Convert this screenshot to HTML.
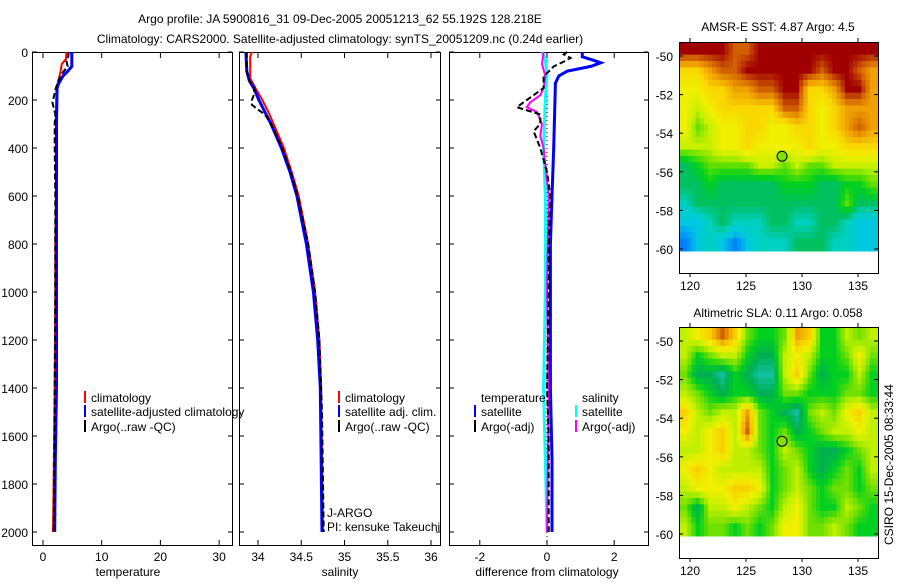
<!DOCTYPE html>
<html><head><meta charset="utf-8"><style>
body{margin:0;background:#fff;width:900px;height:580px;overflow:hidden}
svg{font-family:"Liberation Sans",sans-serif;font-size:12px}
</style></head><body>
<svg id="c" width="900" height="580">
<text x="340" y="23" text-anchor="middle">Argo profile: JA 5900816_31 09-Dec-2005 20051213_62 55.192S 128.218E</text>
<text x="340" y="43" text-anchor="middle">Climatology: CARS2000. Satellite-adjusted climatology: synTS_20051209.nc (0.24d earlier)</text>
<text x="778" y="31" text-anchor="middle">AMSR-E SST: 4.87 Argo: 4.5</text>
<text x="778" y="317" text-anchor="middle">Altimetric SLA: 0.11 Argo: 0.058</text>
<text transform="translate(893,545) rotate(-90)">CSIRO 15-Dec-2005 08:33:44</text>
</svg>
<script>
// ---------- data ----------
const depthTicks=[0,200,400,600,800,1000,1200,1400,1600,1800,2000];
const tempTicks=[0,10,20,30];
const salTicks=[34,34.5,35,35.5,36];
const salTickLabels=["34","34.5","35","35.5","36"];
const diffTicks=[-2,0,2];
const tempClimDepth=[0,30,50,80,120,150,300,600,800,1000,1400,1800,2000];
const tempClim=[4.0,3.9,3.2,3.0,2.6,2.3,2.2,2.2,2.1,2.1,2.0,1.8,1.7];
const tempSatDepth=[0,60,80,100,130,150,300,600,1000,1400,1700,2000];
const tempSat=[4.9,4.9,4.2,3.4,2.7,2.4,2.3,2.3,2.3,2.3,2.1,2.0];
const tempArgoDepth=[0,20,40,60,90,120,150,190,210,230,260,300,400,600,1000,1400,1800,2000];
const tempArgo=[4.4,4.3,4.0,4.2,3.2,2.6,2.2,1.8,1.6,1.8,2.1,2.0,2.0,2.1,2.1,2.0,1.9,1.8];
const salClimDepth=[0,20,110,150,200,250,300,400,500,600,800,1000,1200,1400,2000];
const salClim=[33.93,33.91,33.91,33.97,34.05,34.12,34.18,34.3,34.39,34.47,34.58,34.66,34.71,34.73,34.75];
const salSatDepth=[0,80,120,150,200,250,300,400,500,600,800,1000,1200,1400,2000];
const salSat=[33.86,33.87,33.9,33.95,34.01,34.08,34.15,34.27,34.37,34.45,34.56,34.64,34.69,34.72,34.74];
const salArgoDepth=[0,80,120,150,180,200,220,240,260,300,400,500,600,800,1000,1200,1500,2000];
const salArgo=[33.87,33.87,33.9,33.96,33.95,33.93,33.93,34.0,34.08,34.15,34.28,34.38,34.46,34.58,34.66,34.71,34.74,34.76];
const dTempSatDepth=[0,20,35,45,60,80,100,130,400,600,800,1400,1700,2000];
const dTempSat=[1.05,1.05,1.4,1.6,1.3,0.6,0.35,0.25,0.2,0.15,0.1,0.1,0.15,0.15];
const dTempArgoDepth=[0,10,25,40,60,75,100,150,200,230,260,300,330,400,500,600,800,1000,1400,1600,2000];
const dTempArgo=[0.6,0.5,0.7,0.5,0.2,0.1,-0.1,-0.1,-0.6,-0.9,-0.2,-0.2,-0.4,-0.2,0.0,0.1,0.05,0.05,0.0,0.05,0.05];
const dSalArgoDepth=[0,50,100,150,180,210,230,250,300,350,400,600,1000,1400,2000];
const dSalArgo=[-0.1,-0.15,-0.05,-0.1,-0.2,-0.5,-0.6,-0.3,-0.15,-0.2,-0.1,0.05,0.0,0.05,0.0];
const dSalSatDepth=[0,30,100,200,400,600,1000,1400,2000];
const dSalSat=[-0.15,-0.05,0.0,-0.05,-0.1,-0.05,-0.05,-0.1,0.0];
const lonTicks=[120,125,130,135];
const latTicks=[-50,-52,-54,-56,-58,-60];
const sstGrid=[
[11,11,11,11,10,10,11,11,11,11,11,11,11,11,11,11],
[8,8,9,10,10,11,11,11,11,11,11,10,11,11,10,9],
[7,7,8,8,9,9,10,10,11,11,8,8,9,11,11,9],
[7,6,7,8,8,8,8,8,10,10,8,7,8,9,9,9],
[7,5,6,7,7,8,8,7,7,8,8,7,8,9,10,9],
[6,6,6,7,7,8,7,7,7,7,8,7,7,8,8,8],
[3,4,5,5,5,5,6,6,5,6,5,5,6,6,6,6],
[3,3,4,3,3,3,3,3,4,4,4,3,3,4,4,5],
[2,3,3,3,3,3,3,3,3,3,3,3,3,5,3,3],
[1,1,2,3,2,2,2,3,3,2,2,3,3,2,1,1],
[0,1,2,1,0,1,2,2,2,3,3,3,2,2,1,1]];
const slaGrid=[
[4,5,6,8,6,3,2,2,3,7,6,2,2,4,3,4],
[4,2,3,4,4,2,1,1,4,5,4,2,2,3,5,3],
[3,1,1,0,2,1,0,0,4,6,3,1,2,2,4,2],
[4,3,2,1,2,2,1,1,3,3,2,2,2,3,3,2],
[6,4,3,4,4,7,3,2,1,0,3,4,3,5,6,4],
[5,4,5,6,4,8,3,2,3,1,2,3,4,4,5,4],
[4,4,5,6,4,4,3,2,4,3,2,1,1,2,3,4],
[5,6,5,4,4,4,4,2,3,4,2,1,2,3,2,4],
[4,5,5,5,6,6,5,2,3,4,3,2,3,3,2,3],
[3,1,4,4,5,4,3,2,4,5,3,2,2,4,3,2],
[4,2,3,3,2,3,2,3,5,5,3,3,4,3,2,2]];
const argoLon=128.218, argoLat=-55.192;
// ---------- drawing ----------
const NS="http://www.w3.org/2000/svg", svg=document.getElementById('c');
function mk(t,a,p){const e=document.createElementNS(NS,t);for(const k in a)e.setAttribute(k,a[k]);(p||svg).appendChild(e);return e;}
const yD=d=>52+0.24*d;
const xT=v=>43+5.87*v, xS=v=>258+86.5*(v-34), xDf=v=>547+33.6*v;
const panels=[[32,232,'temperature-panel'],[239,440,'salinity-panel'],[449,648,'difference-panel']];
panels.forEach(p=>{
 const r=mk('rect',{x:p[0]+.5,y:52.5,width:p[1]-p[0],height:493,fill:'none',stroke:'#000'});
 
 
 depthTicks.forEach(d=>{mk('line',{x1:p[0],x2:p[0]+5,y1:yD(d),y2:yD(d),stroke:'#000'});mk('line',{x1:p[1]-4,x2:p[1],y1:yD(d),y2:yD(d),stroke:'#000'});});
});
depthTicks.forEach(d=>{const t=mk('text',{x:28,y:yD(d)+5,'text-anchor':'end'});t.textContent=d;
 
 });
function xticks(ticks,labels,fx){ticks.forEach((v,i)=>{const x=fx(v);mk('line',{x1:x,x2:x,y1:545,y2:540,stroke:'#000'});mk('line',{x1:x,x2:x,y1:53,y2:58,stroke:'#000'});
 const t=mk('text',{x:x,y:561,'text-anchor':'middle'});t.textContent=labels[i];
 
 });}
xticks(tempTicks,tempTicks,xT);xticks(salTicks,salTickLabels,xS);xticks(diffTicks,diffTicks,xDf);
[['temperature',128,'temperature-axis-title'],['salinity',340,'salinity-axis-title'],['difference from climatology',547,'difference-axis-title']].forEach(a=>{
 const t=mk('text',{x:a[1],y:576,'text-anchor':'middle'});t.textContent=a[0];
 
 });
function line(ds,vs,fx,col,w,dash,name){const pts=ds.map((d,i)=>fx(vs[i]).toFixed(1)+','+yD(d).toFixed(1)).join(' ');
 const a={points:pts,fill:'none',stroke:col,'stroke-width':w};if(dash)a['stroke-dasharray']=dash;const e=mk('polyline',a);
 
 }
mk('line',{x1:xDf(0),x2:xDf(0),y1:52,y2:545,stroke:'#000','stroke-dasharray':'1,3'});
line(tempClimDepth,tempClim,xT,'#f00',2,null,'temp-climatology-line');
line(tempSatDepth,tempSat,xT,'#00f',3,null,'temp-satellite-line');
line(tempArgoDepth,tempArgo,xT,'#000',2,'6,3','temp-argo-line');
line(salClimDepth,salClim,xS,'#f00',2,null,'sal-climatology-line');
line(salSatDepth,salSat,xS,'#00f',3,null,'sal-satellite-line');
line(salArgoDepth,salArgo,xS,'#000',2,'6,3','sal-argo-line');
line(dSalSatDepth,dSalSat,xDf,'#0ff',3,null,'diff-sal-satellite-line');
line(dSalArgoDepth,dSalArgo,xDf,'#f0f',2,null,'diff-sal-argo-line');
line(dTempSatDepth,dTempSat,xDf,'#00f',3,null,'diff-temp-satellite-line');
line(dTempArgoDepth,dTempArgo,xDf,'#000',2,'6,3','diff-temp-argo-line');
function leg(x,y,col,txt,name){mk('line',{x1:x,x2:x,y1:y-11,y2:y+1,stroke:col,'stroke-width':2});
 const t=mk('text',{x:x+6,y:y});t.textContent=txt;
 
 }
leg(85,402,'#f00','climatology','legend-climatology');leg(85,416,'#00f','satellite-adjusted climatology','legend-satellite-adjusted');leg(85,431,'#000','Argo(..raw -QC)','legend-argo');
leg(339,402,'#f00','climatology','legend-sal-climatology');leg(339,416,'#00f','satellite adj. clim.','legend-sal-satellite');leg(339,431,'#000','Argo(..raw -QC)','legend-sal-argo');
let t=mk('text',{x:481,y:402});t.textContent='temperature';

t=mk('text',{x:582,y:402});t.textContent='salinity';

leg(475,416,'#00f','satellite','legend-diff-temp-satellite');leg(475,431,'#000','Argo(-adj)','legend-diff-temp-argo');
leg(576,416,'#0ff','satellite','legend-diff-sal-satellite');leg(576,431,'#f0f','Argo(-adj)','legend-diff-sal-argo');
t=mk('text',{x:327,y:517});t.textContent='J-ARGO';
t=mk('text',{x:327,y:531});t.textContent='PI: kensuke Takeuchi';
// maps
const sstCols=['#0080ff','#00c8e0','#00d0c0','#00c060','#00d020','#60e000','#c8f000','#f0f000','#f8d800','#f0a000','#d06000','#a00000'];
const slaCols=['#10c0a0','#00b050','#00d020','#70e000','#c0f000','#f0f000','#f8d000','#f0a000','#d06000'];
function hex(c){return [1,3,5].map(i=>parseInt(c.substr(i,2),16));}
function colAt(cols,v){v=Math.max(0,Math.min(cols.length-1,v));const i=Math.min(cols.length-2,Math.floor(v)),f=v-i;
 const a=hex(cols[i]),b=hex(cols[i+1]);return 'rgb('+a.map((x,k)=>Math.round(x+(b[k]-x)*f)).join(',')+')';}
function sample(grid,r,c){const nr=grid.length,nc=grid[0].length;
 r=Math.max(0,Math.min(nr-1,r));c=Math.max(0,Math.min(nc-1,c));
 const r0=Math.min(nr-2,Math.floor(r)),c0=Math.min(nc-2,Math.floor(c)),fr=r-r0,fc=c-c0;
 return grid[r0][c0]*(1-fr)*(1-fc)+grid[r0][c0+1]*(1-fr)*fc+grid[r0+1][c0]*fr*(1-fc)+grid[r0+1][c0+1]*fr*fc;}
function map(top,grid,cols,name,dataBottom){
 const L=679,R=878,B=top+231;
 const g=mk('g',{});
 const yL=v=>top+14+(v+50)*(-19.3), xL=v=>690+(v-120)*11.2;
 const nr=grid.length,nc=grid[0].length,S=3,cw=(R-L)/nc/S,rh=(dataBottom-top)/nr/S;
 for(let r=0;r<nr*S;r++)for(let c=0;c<nc*S;c++){
  const v=sample(grid,(r+0.5)/S-0.5,(c+0.5)/S-0.5);
  mk('rect',{x:L+c*cw,y:top+r*rh,width:cw+0.5,height:rh+0.5,fill:colAt(cols,v)},g);}
 mk('rect',{x:L+.5,y:top+.5,width:R-L,height:B-top,fill:'none',stroke:'#000'});
 latTicks.forEach(v=>{const y=yL(v);mk('line',{x1:L,x2:L+4,y1:y,y2:y,stroke:'#000'});mk('line',{x1:R-4,x2:R,y1:y,y2:y,stroke:'#000'});
  const t=mk('text',{x:673,y:y+5,'text-anchor':'end'});t.textContent=v;});
 lonTicks.forEach(v=>{const x=xL(v);mk('line',{x1:x,x2:x,y1:B,y2:B+4,stroke:'#000'});mk('line',{x1:x,x2:x,y1:top,y2:top-4,stroke:'#000'});
  const t=mk('text',{x:x,y:B+17,'text-anchor':'middle'});t.textContent=v;});
 const c=mk('circle',{cx:xL(argoLon),cy:yL(argoLat),r:5,fill:'#80e000',stroke:'#000'});
 
}
map(42,sstGrid,sstCols,'sst-map',251);
map(327,slaGrid,slaCols,'sla-map',536);
</script>
</body></html>
